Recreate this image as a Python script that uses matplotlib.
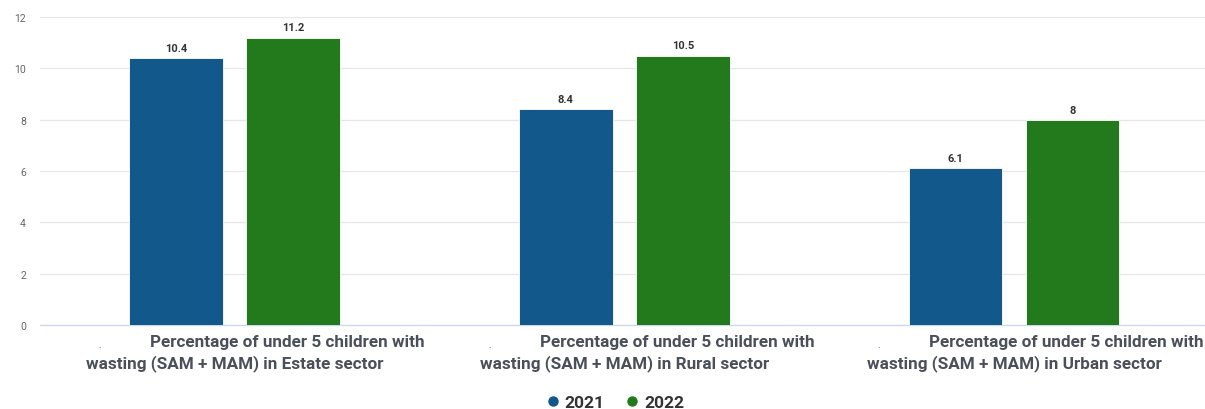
import numpy as np
import matplotlib.pyplot as plt

# === DATA ===
LABEL_LINE1 = "Percentage of under 5 children with"
LABEL_LINE2 = [
    "wasting (SAM + MAM) in Estate sector",
    "wasting (SAM + MAM) in Rural sector",
    "wasting (SAM + MAM) in Urban sector",
]
YEARS = ["2021", "2022"]
VALUES_2021 = [10.4, 8.4, 6.1]
VALUES_2022 = [11.2, 10.5, 8]
LABELS_2021 = ["10.4", "8.4", "6.1"]
LABELS_2022 = ["11.2", "10.5", "8"]

COLORS = ["#12588a", "#237a1d"]
TEXT_COLOR = "#4a4f5a"

plt.rcParams['font.family'] = ['Roboto', 'DejaVu Sans']

fig = plt.figure(figsize=(12.05, 4.10), dpi=100)
ax = fig.add_axes([0.033, 0.205, 0.967, 0.751])

x = np.arange(len(LABEL_LINE2))
width = 0.24
offset = 0.15

series = [(VALUES_2021, LABELS_2021), (VALUES_2022, LABELS_2022)]
for i, (vals, labs) in enumerate(series):
    pos = x + (i * 2 - 1) * offset
    bars = ax.bar(pos, vals, width, color=COLORS[i], edgecolor="#ffffff",
                  linewidth=0.6, label=YEARS[i], zorder=3)
    for b, lab in zip(bars, labs):
        ax.text(b.get_x() + b.get_width() / 2, b.get_height() + 0.2, lab,
                ha="center", va="bottom", fontsize=8, fontweight="bold",
                color="#333333")

ax.set_xlim(-0.5, 2.49)
ax.set_ylim(0, 12)
ax.set_yticks([0, 2, 4, 6, 8, 10, 12])
ax.tick_params(axis="y", length=0, labelsize=7.5, labelcolor="#666666", pad=10)
ax.yaxis.grid(True, color="#e6e6e6", linewidth=0.9, zorder=0)
ax.set_axisbelow(True)
for s in ["top", "right", "left"]:
    ax.spines[s].set_visible(False)
ax.spines["bottom"].set_color("#ccd6eb")
ax.spines["bottom"].set_linewidth(0.9)

ax.set_xticks(x)
ax.set_xticklabels([])
ax.tick_params(axis="x", length=0)

# category labels: first line indented after a small dot, second line centred
trans = ax.get_xaxis_transform()
for xi, line2 in zip(x, LABEL_LINE2):
    ax.text(xi - 0.35, -0.045, ".", transform=trans, ha="left", va="top",
            fontsize=7, color=TEXT_COLOR)
    ax.text(xi - 0.217, -0.03, LABEL_LINE1, transform=trans, ha="left",
            va="top", fontsize=12.3, fontweight="bold", color=TEXT_COLOR)
    ax.text(xi, -0.095, line2, transform=trans, ha="center", va="top",
            fontsize=12.3, fontweight="bold", color=TEXT_COLOR)

handles = [plt.Line2D([], [], marker="o", linestyle="", markersize=6.5,
                      color=c) for c in COLORS]
fig.legend(handles, YEARS, loc="lower center", bbox_to_anchor=(0.509, -0.04),
           ncol=2, frameon=False, handletextpad=0.1, columnspacing=1.0,
           handlelength=1.2, prop={"size": 12.5, "weight": "bold"},
           labelcolor="#333333")

fig.savefig("out.png", dpi=100)
